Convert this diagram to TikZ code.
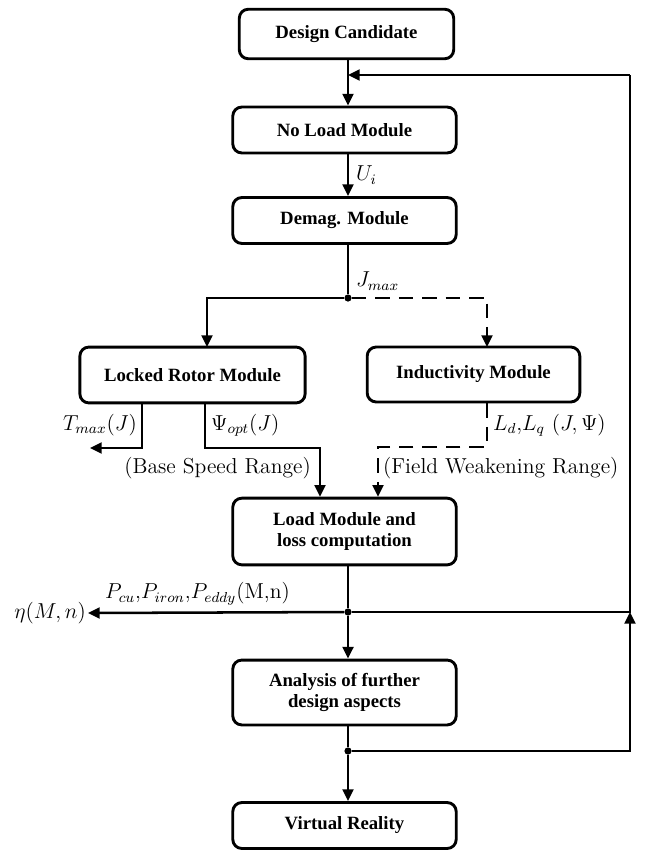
\documentclass[tikz,border=0pt]{standalone}
\usepackage{fontspec}
\usepackage{amsmath}
\newfontfamily\boxfont{Liberation Serif}
\usetikzlibrary{arrows.meta, positioning}

\begin{document}
\begin{tikzpicture}[
      x=0.555pt, y=-0.555pt,
      module/.style={draw, line width=1.6pt, rounded corners=5pt, align=center,
        font=\boxfont\bfseries\fontsize{10.4}{12}\selectfont, minimum width=124pt, minimum height=25.5pt},
      flow/.style={line width=1.4pt, -{Triangle[length=6.5pt,width=6pt]}},
      plain/.style={line width=1.4pt},
      dashflow/.style={flow, dash pattern=on 8pt off 5pt},
      lbl/.style={font=\large, inner sep=1pt},
      dot/.style={circle, fill, inner sep=0pt, minimum size=4pt}
    ]
    \useasboundingbox (0,0) rectangle (647,850);
    % Nodes
    \node[module, minimum width=119pt, minimum height=27.5pt] (cand) at (346.5,34) {Design Candidate};
    \node[module] (noload) at (344.5,130) {No Load Module};
    \node[module] (demag) at (344.5,220.5) {Demag. Module};
    \node[module, minimum width=125pt, minimum height=31pt] (locked) at (192.5,375) {Locked Rotor Module};
    \node[module, minimum width=118pt, minimum height=30.5pt] (induct) at (473.5,374.5) {Inductivity Module};
    \node[module, minimum height=37pt] (load) at (344.5,531.5) {Load Module and\\loss computation};
    \node[module, minimum height=36pt] (analysis) at (344.5,692.5) {Analysis of further\\design aspects};
    \node[module] (vr) at (344.5,825.5) {Virtual Reality};

    % Junctions and corners
    \node[dot] (j1) at (348,298) {};
    \node[dot] (j2) at (348,612) {};
    \node[dot] (j3) at (348,751) {};
    \coordinate (fbin) at (348,75);
    \coordinate (fbcorner) at (630,75);
    \coordinate (fbjoin) at (630,612);
    \coordinate (lrtop) at (207,347);
    \coordinate (intop) at (487,347);
    \coordinate (tm) at (142,448);
    \coordinate (tmend) at (90,448);
    \coordinate (ps) at (205,448);
    \coordinate (psr) at (320,448);
    \coordinate (ld) at (487,447);
    \coordinate (ldl) at (378,447);

    % Labels
    \node[lbl, anchor=west] (ui) at (354,175) {$U_i$};
    \node[lbl, anchor=west] (jmax) at (354,281) {$J_{max}$};
    \node[lbl, anchor=east] (tmax) at (139,425) {$T_{max}(J)$};
    \node[lbl, anchor=west] (psiopt) at (209,425) {$\Psi_{opt}(J)$};
    \node[lbl, anchor=west] (ldlq) at (491,425) {$L_d$,$L_q$ $(J,\Psi)$};
    \node[lbl, anchor=east] (base) at (313,468) {(Base Speed Range)};
    \node[lbl, anchor=west] (field) at (381,468) {(Field Weakening Range)};
    \node[lbl, anchor=east] (eta) at (88,613) {$\eta(M,n)$};
    \node[lbl, anchor=south west] (loss) at (103,607) {$P_{cu}$,$P_{iron}$,$P_{eddy}$(M,n)};

    % Arrows
    \draw[flow] (cand.south -| fbin) -- (noload.north -| fbin);
    \draw[flow] (fbcorner) -- (fbin);
    \draw[flow] (noload.south -| j1) -- (demag.north -| j1);
    \draw[plain] (demag.south -| j1) -- (j1);
    \draw[flow] (j1) -| (lrtop);
    \draw[dashflow] (j1) -| (intop);
    \draw[flow] (locked.south -| tm) -- (tm) -- (tmend);
    \draw[flow] (locked.south -| ps) -- (ps) -- (psr) -- (load.north -| psr);
    \draw[dashflow] (induct.south -| ld) -- (ld) -- (ldl) -- (load.north -| ldl);
    \draw[plain] (load.south -| j2) -- (j2);
    \draw[flow] (j2) -- (eta.east);
    \draw[plain] (j2) -| (fbcorner);
    \draw[flow] (j2) -- (analysis.north -| j2);
    \draw[plain] (analysis.south -| j3) -- (j3);
    \draw[flow] (j3) -| (fbjoin);
    \draw[flow] (j3) -- (vr.north -| j3);
  \end{tikzpicture}
\end{document}
